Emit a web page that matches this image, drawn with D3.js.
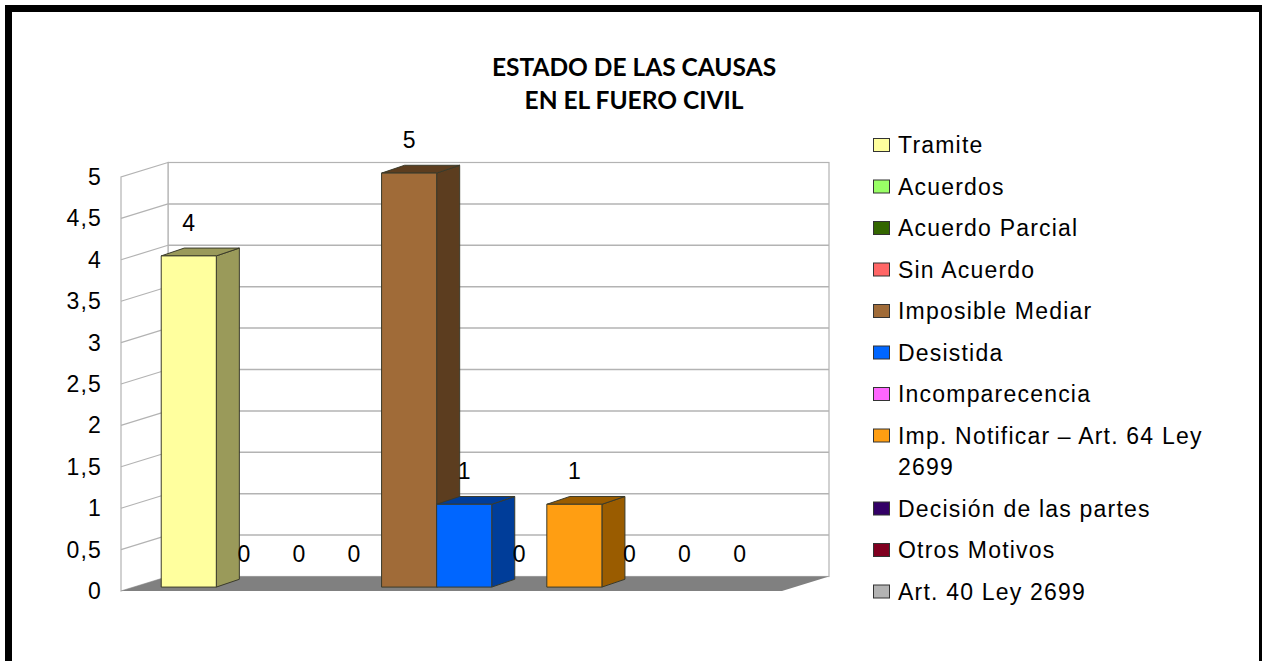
<!DOCTYPE html>
<html>
<head>
<meta charset="utf-8">
<script src="https://cdn.jsdelivr.net/npm/d3@7"></script>
<style>
  body { margin: 0; background: #fff; }
  text { font-family: "Liberation Sans", Arial, sans-serif; }
</style>
</head>
<body>
<div id="chart"></div>
<script>
// Data
const categories = [
    "Tramite", "Acuerdos", "Acuerdo Parcial", "Sin Acuerdo", "Imposible Mediar",
    "Desistida", "Incomparecencia", "Imp. Notificar – Art. 64 Ley 2699",
    "Decisión de las partes", "Otros Motivos", "Art. 40 Ley 2699"
];
const values = [4, 0, 0, 0, 5, 1, 0, 1, 0, 0, 0];
const yTickValues = [0, 0.5, 1, 1.5, 2, 2.5, 3, 3.5, 4, 4.5, 5];
const titleLines = ["ESTADO DE LAS CAUSAS", "EN EL FUERO CIVIL"];

// Palette: front face / side and top face
const frontColors = ["#ffff9e", "#99ff66", "#336600", "#ff6666", "#a06b38", "#0066ff",
    "#ff66ff", "#ff9e12", "#330066", "#800020", "#b3b3b3"];
const sideColors = ["#9a9a5a", "#5c9a3d", "#1f3d00", "#9a3d3d", "#5c3d1f", "#003d99",
    "#9a3d9a", "#9a5c00", "#1f003d", "#4d0013", "#6b6b6b"];

const width = 1262, height = 661;
const svg = d3.select("#chart").append("svg")
    .attr("width", width)
    .attr("height", height);

// Frame
svg.append("rect")
    .attr("x", 8.5).attr("y", 8.5)
    .attr("width", 1254).attr("height", 700)
    .attr("fill", "none")
    .attr("stroke", "#000")
    .attr("stroke-width", 7);

// Title
svg.append("g").selectAll("text")
    .data(titleLines)
    .enter()
    .append("text")
    .attr("x", 634)
    .attr("y", (d, i) => 76 + i * 33)
    .attr("text-anchor", "middle")
    .style("font-family", "Lato, 'Liberation Sans', sans-serif")
    .style("font-weight", "bold")
    .style("font-size", "24.5px")
    .text(d => d);

// 3D geometry
const front = { left: 121, right: 782, bottom: 591, top: 177 };
const depth = { dx: 47, dy: -14.5 };
const barOffset = 0.27;   // where the bar front sits in the depth
const barDepth = 0.49;

const yFront = d3.scaleLinear().domain([0, 5]).range([front.bottom, front.top]);
const yBack = v => yFront(v) + depth.dy;
const xBack = x => x + depth.dx;

const xBand = d3.scaleBand()
    .domain(categories)
    .range([front.left + depth.dx * barOffset, front.right + depth.dx * barOffset])
    .paddingInner(0)
    .paddingOuter(0.5);
const yBar = v => yFront(v) + depth.dy * barOffset;

const gridColor = "#b3b3b3";
const walls = svg.append("g");
const floorPoints = [
    [front.left, yFront(0)], [front.right, yFront(0)],
    [xBack(front.right), yBack(0)], [xBack(front.left), yBack(0)]
].map(p => p.join(",")).join(" ");

// Back wall
walls.append("rect")
    .attr("x", xBack(front.left))
    .attr("y", yBack(5))
    .attr("width", front.right - front.left)
    .attr("height", yBack(0) - yBack(5))
    .attr("fill", "#fff")
    .attr("stroke", gridColor)
    .attr("stroke-width", 1.2);

// Left wall outline
walls.append("polygon")
    .attr("points", [
        [front.left, yFront(0)], [front.left, yFront(5)],
        [xBack(front.left), yBack(5)], [xBack(front.left), yBack(0)]
    ].map(p => p.join(",")).join(" "))
    .attr("fill", "#fff")
    .attr("stroke", gridColor)
    .attr("stroke-width", 1.2);

// Gridlines
walls.selectAll(".gback")
    .data(yTickValues.filter(v => v > 0 && v < 5))
    .enter()
    .append("line")
    .attr("x1", xBack(front.left)).attr("x2", xBack(front.right))
    .attr("y1", d => yBack(d)).attr("y2", d => yBack(d))
    .attr("stroke", gridColor).attr("stroke-width", 1.5);

walls.selectAll(".gside")
    .data(yTickValues.filter(v => v > 0 && v < 5))
    .enter()
    .append("line")
    .attr("x1", front.left).attr("x2", xBack(front.left))
    .attr("y1", d => yFront(d)).attr("y2", d => yBack(d))
    .attr("stroke", gridColor).attr("stroke-width", 1.2);

// Floor
walls.append("polygon")
    .attr("points", floorPoints)
    .attr("fill", "#808080");

// Y labels
svg.append("g").selectAll("text")
    .data(yTickValues)
    .enter()
    .append("text")
    .attr("x", 102)
    .attr("y", d => yFront(d) + 8)
    .attr("text-anchor", "end")
    .style("font-size", "23px")
    .style("letter-spacing", "1.2px")
    .text(d => String(d).replace(".", ","));

// Bars
const bdx = depth.dx * barDepth, bdy = depth.dy * barDepth * 1.1;
const bars = svg.append("g");
categories.forEach((c, i) => {
    const v = values[i];
    if (v <= 0) return;
    const x0 = xBand(c), w = xBand.bandwidth();
    const yt = yBar(v), yb = yBar(0);
    const g = bars.append("g").attr("stroke", "#3a3a2a").attr("stroke-width", 1).attr("stroke-linejoin", "round");
    g.append("polygon")
        .attr("points", [[x0 + w, yt], [x0 + w + bdx, yt + bdy], [x0 + w + bdx, yb + bdy], [x0 + w, yb]]
            .map(p => p.join(",")).join(" "))
        .attr("fill", sideColors[i]);
    g.append("polygon")
        .attr("points", [[x0, yt], [x0 + bdx, yt + bdy], [x0 + w + bdx, yt + bdy], [x0 + w, yt]]
            .map(p => p.join(",")).join(" "))
        .attr("fill", sideColors[i]);
    g.append("rect")
        .attr("x", x0).attr("y", yt)
        .attr("width", w).attr("height", yb - yt)
        .attr("fill", frontColors[i]);
});

// Value labels
svg.append("g").selectAll("text")
    .data(categories)
    .enter()
    .append("text")
    .attr("x", d => xBand(d) + xBand.bandwidth() / 2)
    .attr("y", (d, i) => yBar(values[i]) - 25)
    .attr("text-anchor", "middle")
    .style("font-size", "23px")
    .text((d, i) => values[i]);

// Legend
const legend = svg.append("g");
let ly = 145;
categories.forEach((c, i) => {
    legend.append("rect")
        .attr("x", 873.5).attr("y", ly - 6.5)
        .attr("width", 16).attr("height", 13)
        .attr("fill", frontColors[i])
        .attr("stroke", "#333").attr("stroke-width", 1);
    const t = legend.append("text")
        .attr("x", 898)
        .attr("y", ly + 8)
        .style("font-size", "23px")
        .style("letter-spacing", "1.2px");
    // wrap long labels
    const words = c.split(" ");
    let line = [], lines = 0;
    let tspan = t.append("tspan").attr("x", 898).attr("dy", 0);
    words.forEach(wd => {
        line.push(wd);
        tspan.text(line.join(" "));
        if (tspan.node().getComputedTextLength() > 330 && line.length > 1) {
            line.pop();
            tspan.text(line.join(" "));
            line = [wd];
            lines++;
            tspan = t.append("tspan").attr("x", 898).attr("dy", 31.5).text(wd);
        }
    });
    ly += 41.5 + lines * 31.5;
});
</script>
</body>
</html>
